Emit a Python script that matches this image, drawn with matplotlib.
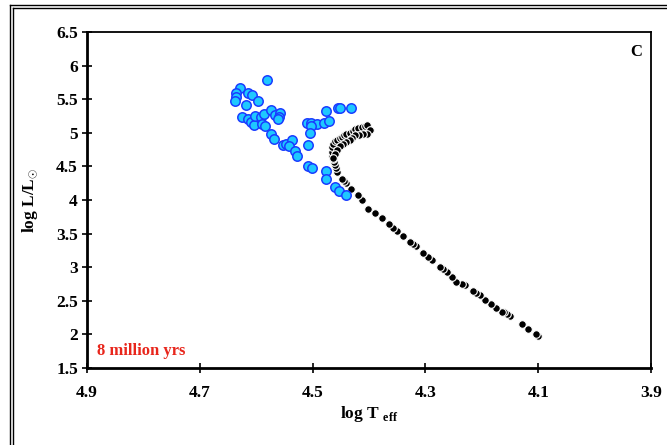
"""Isocrona de 8 millones de anos en el diagrama HR (panel C)."""
import matplotlib
matplotlib.use("Agg")
import matplotlib.pyplot as plt
from matplotlib.lines import Line2D

plt.rcParams["font.family"] = ["Liberation Serif", "DejaVu Serif"]
plt.rcParams["mathtext.fontset"] = "custom"
plt.rcParams["mathtext.rm"] = "Liberation Serif:bold"
plt.rcParams["mathtext.bf"] = "Liberation Serif:bold"

# Estrellas observadas (log Teff, log L/Lsun)
star_logt = [4.580, 4.629, 4.635, 4.636, 4.638, 4.615, 4.607, 4.596, 4.618, 4.626,
             4.614, 4.610, 4.604, 4.602, 4.592, 4.589, 4.586, 4.584, 4.573, 4.566,
             4.558, 4.559, 4.562, 4.574, 4.568, 4.553, 4.547, 4.537, 4.541, 4.531,
             4.527, 4.510, 4.502, 4.493, 4.503, 4.505, 4.480, 4.471, 4.477, 4.455,
             4.452, 4.431, 4.508, 4.508, 4.501, 4.477, 4.477, 4.460, 4.453, 4.441]
star_logl = [5.78, 5.67, 5.60, 5.54, 5.48, 5.60, 5.57, 5.48, 5.42, 5.23,
             5.20, 5.16, 5.12, 5.25, 5.23, 5.13, 5.28, 5.10, 5.34, 5.26,
             5.30, 5.24, 5.20, 4.98, 4.91, 4.82, 4.84, 4.89, 4.80, 4.73,
             4.65, 5.14, 5.15, 5.13, 5.10, 5.00, 5.14, 5.17, 5.33, 5.37,
             5.37, 5.37, 4.82, 4.51, 4.48, 4.43, 4.32, 4.19, 4.14, 4.07]

# Isocrona teorica de 8 Myr
iso_logt = [4.100, 4.104, 4.118, 4.129, 4.150, 4.156, 4.160, 4.165, 4.174, 4.184,
            4.194, 4.204, 4.210, 4.215, 4.230, 4.235, 4.245, 4.253, 4.262, 4.268,
            4.274, 4.289, 4.295, 4.304, 4.317, 4.322, 4.327, 4.339, 4.351, 4.358,
            4.364, 4.377, 4.389, 4.401, 4.413, 4.420, 4.431, 4.440, 4.444, 4.448,
            4.457, 4.459, 4.460, 4.462, 4.463, 4.465, 4.466, 4.466, 4.464, 4.460,
            4.457, 4.452, 4.448, 4.444, 4.440, 4.434, 4.428, 4.424, 4.419, 4.413,
            4.407, 4.403, 4.398, 4.404, 4.410, 4.418, 4.425, 4.430, 4.434, 4.440,
            4.446, 4.452, 4.457, 4.461, 4.463]
iso_logl = [1.97, 2.01, 2.08, 2.15, 2.27, 2.31, 2.33, 2.34, 2.40, 2.45,
            2.51, 2.58, 2.62, 2.65, 2.74, 2.75, 2.78, 2.86, 2.93, 2.97,
            3.01, 3.11, 3.15, 3.21, 3.31, 3.34, 3.37, 3.46, 3.54, 3.59,
            3.64, 3.73, 3.80, 3.87, 4.00, 4.08, 4.16, 4.25, 4.28, 4.32,
            4.42, 4.47, 4.52, 4.57, 4.61, 4.65, 4.72, 4.79, 4.84, 4.88,
            4.90, 4.92, 4.94, 4.97, 4.99, 5.00, 5.02, 5.05, 5.07, 5.09,
            5.10, 5.11, 5.04, 4.99, 4.99, 4.97, 4.97, 4.93, 4.89, 4.87,
            4.84, 4.80, 4.74, 4.69, 4.62]

xticks = [4.9, 4.7, 4.5, 4.3, 4.1, 3.9]
yticks = [1.5, 2, 2.5, 3, 3.5, 4, 4.5, 5, 5.5, 6, 6.5]

fig = plt.figure(figsize=(6.67, 4.45), dpi=100)
ax = fig.add_axes([0.1304, 0.173, 0.8456, 0.755])

ax.scatter(iso_logt, iso_logl, s=30, c="black", edgecolors="white",
           linewidths=0.8, zorder=3)
ax.scatter(star_logt, star_logl, s=46, c="#1ec8ff", edgecolors="#1a3cff",
           linewidths=1.1, zorder=4)

ax.set_xlim(4.9, 3.9)
ax.set_ylim(1.5, 6.5)
ax.set_xticks(xticks)
ax.set_xticklabels([f"{t:g}" for t in xticks])
ax.set_yticks(yticks)
ax.set_yticklabels([f"{t:g}" for t in yticks])
ax.tick_params(direction="inout", length=7, width=1.2, labelsize=12.5, pad=3)
ax.tick_params(axis="x", pad=9)
for lab in ax.get_xticklabels() + ax.get_yticklabels():
    lab.set_fontweight("bold")
ax.spines["left"].set_linewidth(2)
ax.spines["bottom"].set_linewidth(2)
ax.spines["top"].set_linewidth(1.3)
ax.spines["right"].set_linewidth(1.3)

ax.set_xlabel(r"log T $_{\rm eff}$", fontsize=12.5, fontweight="bold", labelpad=2)
ax.set_ylabel(r"log L/L$_{\odot}$", fontsize=12.5, fontweight="bold", labelpad=12)

ax.text(0.985, 0.965, "C", transform=ax.transAxes, ha="right", va="top",
        fontsize=12, fontweight="bold")
ax.text(0.018, 0.05, "8 million yrs", transform=ax.transAxes, ha="left",
        va="center", fontsize=12, fontweight="bold", color="#e8261c")

# marco doble exterior
for off in (0.0, 3.0):
    x0 = (10 + off) / 667
    y0 = 1 - (5 + off) / 445
    fig.add_artist(Line2D([x0, x0], [0, y0], transform=fig.transFigure,
                          color="black", linewidth=1.0))
    fig.add_artist(Line2D([x0, 1], [y0, y0], transform=fig.transFigure,
                          color="black", linewidth=1.0))

fig.savefig("out.png", dpi=100)
